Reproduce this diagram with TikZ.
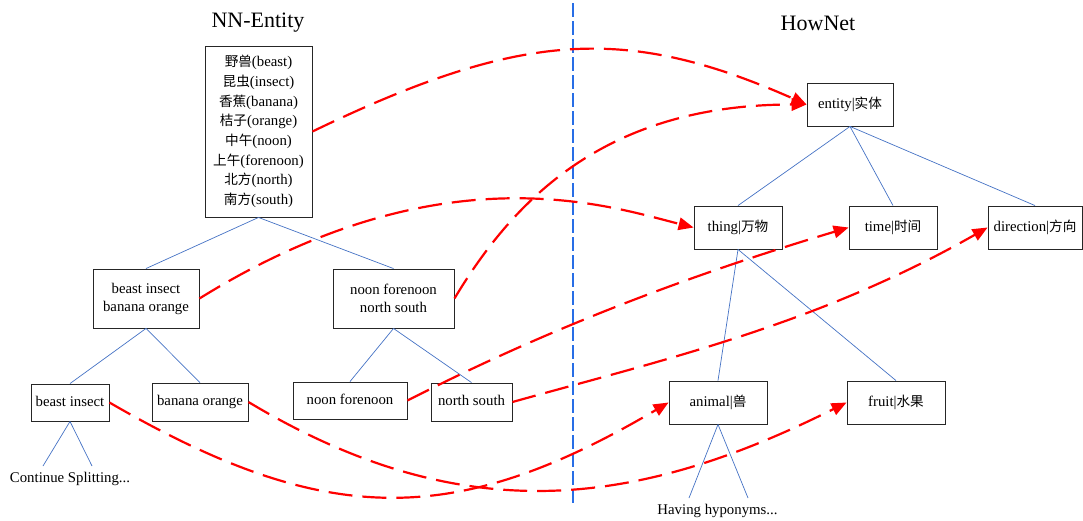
\documentclass[tikz,border=0pt]{standalone}
\usepackage{fontspec}
\setmainfont{Liberation Serif}
\newfontfamily\cjk[Scale=0.92]{Noto Sans CJK SC}
\usetikzlibrary{arrows.meta}
\newcommand{\zh}[1]{{\cjk #1}}
\definecolor{treeblue}{RGB}{68,114,196}
\definecolor{sepblue}{RGB}{40,110,230}
\definecolor{mapred}{RGB}{255,0,0}
\tikzset{
  box/.style={draw=black!85, line width=0.9pt, fill=white, inner sep=0pt, align=center,
              font=\fontsize{14.8}{18}\selectfont},
  one/.style={box, text height=10.5pt, text depth=3.5pt},
  tree/.style={treeblue, line width=0.7pt},
  sep/.style={sepblue, line width=1.1pt, dash pattern=on 14pt off 4pt},
  map/.style={mapred, line width=2.2pt, dash pattern=on 24pt off 10pt,
              -{Triangle[length=15pt,width=12.5pt]}},
  lbl/.style={inner sep=0pt, font=\fontsize{14.8}{18}\selectfont},
  title/.style={inner sep=0pt, font=\fontsize{22}{26}\selectfont}
}
\begin{document}
\begin{tikzpicture}[x=1pt, y=-1pt]
\useasboundingbox (0,0) rectangle (1083,520);

% titles
\node[title] (t1) at (258,23) {NN-Entity};
\node[title] (t2) at (818,23) {HowNet};

% separator
\coordinate (s1) at (573,3);
\coordinate (s2) at (573,503);
\draw[sep] (s1) -- (s2);

% left tree boxes
\node[box, minimum width=107pt, minimum height=171pt,
      font=\fontsize{14.8}{19.7}\selectfont] (top) at (258.5,131.5)
  {\zh{野兽}(beast)\\\zh{昆虫}(insect)\\\zh{香蕉}(banana)\\\zh{桔子}(orange)\\\zh{中午}(noon)\\\zh{上午}(forenoon)\\\zh{北方}(north)\\\zh{南方}(south)};
\node[box, minimum width=106pt, minimum height=59pt] (bibo) at (146,298.5) {beast insect\\banana orange};
\node[box, minimum width=121pt, minimum height=59pt] (nfns) at (393.5,298.5) {noon forenoon\\north south};
\node[one, minimum width=78pt, minimum height=37pt] (bi) at (70,402.5) {beast insect};
\node[one, minimum width=96pt, minimum height=38pt] (bo) at (200,402) {banana orange};
\node[one, minimum width=114pt, minimum height=37pt] (nf) at (350,400.5) {noon forenoon};
\node[one, minimum width=81pt, minimum height=38pt] (ns) at (471.5,402) {north south};
\node[lbl] (cs) at (70,479) {Continue Splitting...};

% right tree boxes
\node[one, minimum width=86pt, minimum height=43pt] (entity) at (850,104.5) {entity|\zh{实体}};
\node[one, minimum width=88pt, minimum height=43pt] (thing) at (738,227.5) {thing|\zh{万物}};
\node[one, minimum width=88pt, minimum height=43pt] (time) at (893,227.5) {time|\zh{时间}};
\node[one, minimum width=94pt, minimum height=43pt] (dir) at (1035,227.5) {direction|\zh{方向}};
\node[one, minimum width=98pt, minimum height=43pt] (animal) at (718,402.5) {animal|\zh{兽}};
\node[one, minimum width=98pt, minimum height=43pt] (fruit) at (896,402.5) {fruit|\zh{水果}};
\node[lbl] (hh) at (717.5,511) {Having hyponyms...};

% tree connectors
\draw[tree] (top.south) -- (bibo.north);
\draw[tree] (top.south) -- (nfns.north);
\draw[tree] (bibo.south) -- (bi.north);
\draw[tree] (bibo.south) -- (bo.north);
\draw[tree] (nfns.south) -- (nf.north);
\draw[tree] (nfns.south) -- (ns.north);
\coordinate (c1) at (43,466);
\coordinate (c2) at (92,466);
\draw[tree] (bi.south) -- (c1);
\draw[tree] (bi.south) -- (c2);

\draw[tree] (entity.south) -- (thing.north);
\draw[tree] (entity.south) -- (time.north);
\draw[tree] (entity.south) -- (dir.north);
\draw[tree] (thing.south) -- (animal.north);
\draw[tree] (thing.south) -- (fruit.north);
\coordinate (h1) at (689,498);
\coordinate (h2) at (748,498);
\draw[tree] (animal.south) -- (h1);
\draw[tree] (animal.south) -- (h2);

% mapping arrows
\draw[map] (top.east) .. controls +(210,-101.5) and +(-180,-79.5) .. (entity.west);
\draw[map] (nfns.east) .. controls +(60,-100) and +(-200,0) .. (entity.west);
\draw[map] (bibo.east) .. controls +(241,-149.5) and +(-85,-21.5) .. (thing.west);
\draw[map] (nf.east) .. controls +(150,-76.5) and +(-150,45) .. (time.west);
\draw[map] (ns.east) .. controls +(150,-42) and +(-170,97) .. (dir.west);
\draw[map] (bi.east) .. controls +(215,124.7) and +(-215,126.9) .. (animal.west);
\draw[map] (bo.east) .. controls +(216,129.6) and +(-209,104.5) .. (fruit.west);
\end{tikzpicture}
\end{document}
